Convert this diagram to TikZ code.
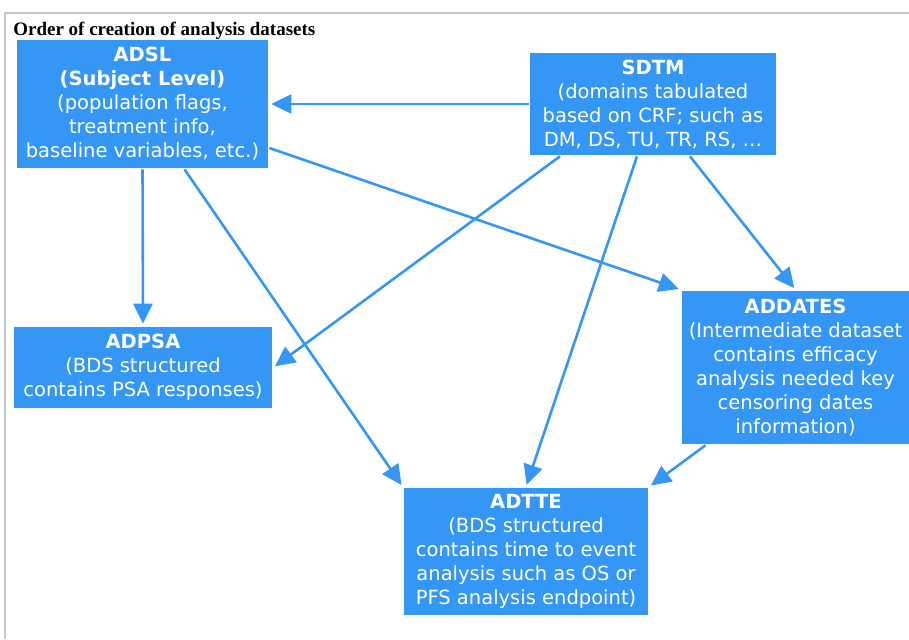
\documentclass[tikz,border=0pt]{standalone}
\usepackage{fontspec}
\setmainfont{DejaVu Sans}
\newfontfamily\titlefont{Liberation Serif}
\usetikzlibrary{arrows.meta}
\definecolor{boxblue}{RGB}{52,150,245}

\begin{document}
\begin{tikzpicture}[x=1pt,y=-1pt,line width=2.6pt,>={Triangle[length=20pt,width=19pt]},
  dset/.style={fill=boxblue,text=white,inner sep=0pt,align=center,font=\fontsize{19.5}{24}\selectfont},
  link/.style={draw=boxblue,->,shorten >=2pt}]
\useasboundingbox (0,0) rectangle (909,639);
% frame and title
\draw[line width=1.5pt,gray!45] (5,639) -- (5,13) -- (909,13);
\node[anchor=base west,inner sep=0pt,font=\titlefont\bfseries\fontsize{19}{22}\selectfont] (title) at (12,36) {Order of creation of analysis datasets};
% datasets
\node[dset,minimum width=251pt,minimum height=128pt] (adsl) at (142.5,104) {\textbf{ADSL}\\\textbf{(Subject Level)}\\(population flags,\\treatment info,\\baseline variables, etc.)};
\node[dset,minimum width=246pt,minimum height=102pt] (sdtm) at (653,104) {\textbf{SDTM}\\(domains tabulated\\based on CRF; such as\\DM, DS, TU, TR, RS, \dots};
\node[dset,minimum width=258pt,minimum height=81pt] (adpsa) at (143,367.5) {\textbf{ADPSA}\\(BDS structured\\contains PSA responses)};
\node[dset,minimum width=227pt,minimum height=153pt] (addates) at (795.5,367.5) {\textbf{ADDATES}\\(Intermediate dataset\\contains efficacy\\analysis needed key\\censoring dates\\information)};
\node[dset,minimum width=244pt,minimum height=127pt] (adtte) at (526,551.5) {\textbf{ADTTE}\\(BDS structured\\contains time to event\\analysis such as OS or\\PFS analysis endpoint)};
% order of creation
\draw[link] (sdtm.west) -- (adsl.east);
\draw[link] (adsl.south) -- (adpsa.north);
\draw[link] ([xshift=42pt]adsl.south) -- (adtte.north west);
\draw[link] ([yshift=-44pt]adsl.east) -- (addates.north west);
\draw[link] ([xshift=-93pt]sdtm.south) -- (adpsa.east);
\draw[link] ([xshift=-16pt]sdtm.south) -- (adtte.north);
\draw[link] ([xshift=37pt]sdtm.south) -- (addates.north);
\draw[link] ([xshift=-90pt]addates.south) -- (adtte.north east);
\end{tikzpicture}
\end{document}
